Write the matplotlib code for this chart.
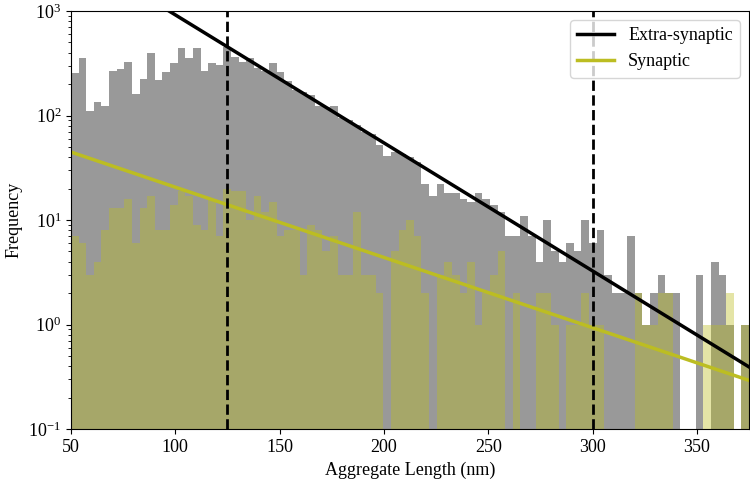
import numpy as np
import matplotlib
matplotlib.use('Agg')
import matplotlib.pyplot as plt

# ---- data ----
length_range = (50, 375)
n_bins = 89

extra_counts = [
    253, 352, 111, 136, 122, 269, 277, 328, 160, 222, 393,
    218, 262, 319, 444, 359, 441, 269, 321, 303, 455, 360,
    327, 357, 282, 267, 315, 263, 214, 176, 169, 157, 122, 120,
    123, 94, 91, 81, 70, 67, 52, 41, 45, 43, 40,
    36, 22, 17, 22, 18, 18, 16, 15, 18, 16, 14,
    12, 7, 7, 11, 7, 4, 10, 5, 4, 6, 5,
    10, 6, 8, 3, 2, 2, 7, 2, 1, 2, 3, 2,
    2, 0, 0, 3, 0, 4, 3, 1, 0, 1,
]
syn_counts = [
    7, 6, 3, 4, 8, 13, 13, 16, 6, 13, 17,
    8, 8, 14, 19, 17, 9, 8, 16, 7, 20, 19,
    19, 10, 17, 12, 15, 7, 8, 8, 3, 9, 8, 5,
    7, 3, 3, 12, 3, 3, 2, 0, 5, 8, 10,
    7, 2, 0, 3, 4, 3, 2, 4, 1, 2, 3,
    5, 0, 2, 0, 0, 2, 2, 1, 0, 1, 1,
    2, 1, 1, 0, 0, 0, 0, 2, 1, 1, 2, 2,
    0, 0, 0, 0, 1, 1, 1, 2, 0, 1,
]

# exponential fits: amplitude, decay length (nm)
fit_extra = (15420.0, 35.45)
fit_syn = (96.9, 64.6)
thresholds = [125, 300]

labels = ['Extra-synaptic', 'Synaptic']

# ---- style ----
plt.rcParams['font.family'] = ['Liberation Serif', 'DejaVu Serif']
plt.rcParams['mathtext.fontset'] = 'stix'
plt.rcParams['font.size'] = 13

fig = plt.figure(figsize=(7.5, 4.83), dpi=100)
ax = fig.add_axes([0.0947, 0.1118, 0.904, 0.8654])

edges = np.linspace(length_range[0], length_range[1], n_bins + 1)
centers = 0.5 * (edges[:-1] + edges[1:])

ax.hist(centers, bins=edges, weights=extra_counts, color='gray', alpha=0.8, log=True)
ax.hist(centers, bins=edges, weights=syn_counts, color='#bcbd22', alpha=0.4, log=True)

x = np.linspace(length_range[0], length_range[1], 300)
ax.plot(x, fit_extra[0] * np.exp(-x / fit_extra[1]), color='black', lw=2.5, label=labels[0])
ax.plot(x, fit_syn[0] * np.exp(-x / fit_syn[1]), color='#bcbd22', lw=2.5, label=labels[1])

for t in thresholds:
    ax.axvline(t, color='black', ls='--', lw=2)

ax.set_yscale('log')
ax.set_xlim(*length_range)
ax.set_ylim(0.1, 1000)
ax.set_xlabel('Aggregate Length (nm)')
ax.set_ylabel('Frequency')
ax.legend(loc='upper right')

fig.savefig('out.png', dpi=100)
